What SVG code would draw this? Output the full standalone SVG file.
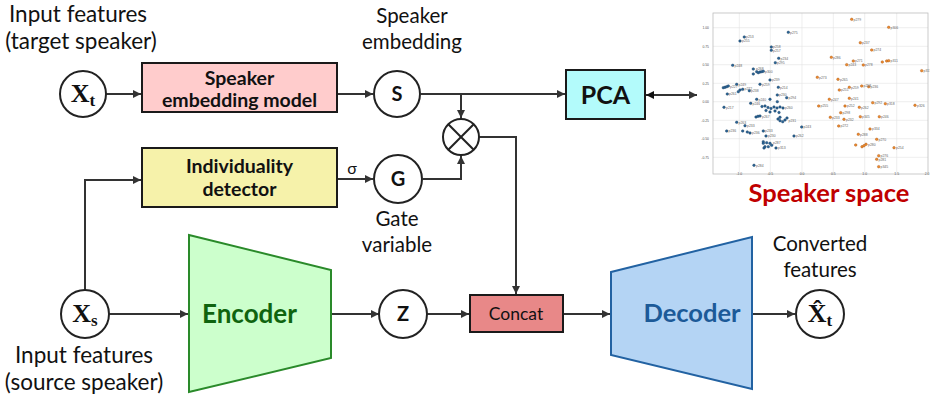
<svg xmlns="http://www.w3.org/2000/svg" width="930" height="396" viewBox="0 0 930 396">
  <defs>
    <marker id="arrow" viewBox="0 0 10 10" refX="10" refY="5" markerWidth="9" markerHeight="8" markerUnits="userSpaceOnUse" orient="auto">
      <path d="M0,0 L10,5 L0,10 z" fill="#333"/>
    </marker>
    <marker id="arrowStart" viewBox="0 0 10 10" refX="0" refY="5" markerWidth="9" markerHeight="8" markerUnits="userSpaceOnUse" orient="auto">
      <path d="M10,0 L0,5 L10,10 z" fill="#111"/>
    </marker>
    <style>
      .lbl { font-family: Lato, "Open Sans", sans-serif; fill: #111; text-anchor: middle; }
      .box { stroke: #1a1a1a; stroke-width: 2; }
      .boxtxt { font-family: Lato, "Open Sans", sans-serif; font-weight: bold; fill: #111; text-anchor: middle; }
      .node { fill: #fff; stroke: #222; stroke-width: 2; }
      .nodetxt { font-family: Lato, "Open Sans", sans-serif; font-weight: bold; font-size: 20px; fill: #111; text-anchor: middle; }
      .math { font-family: "Liberation Serif", "DejaVu Serif", serif; font-weight: bold; fill: #111; text-anchor: middle; }
      .wire { fill: none; stroke: #333; stroke-width: 2; }
      .grid { stroke: #e3e3e3; stroke-width: 0.6; }
      .tick { font-family: "Liberation Sans", sans-serif; font-size: 3.4px; fill: #555; }
      .pt { font-family: "Liberation Sans", sans-serif; font-size: 3.4px; fill: #666; }
      .b { fill: #2a6496; stroke: #1b3f60; stroke-width: 0.4; }
      .o { fill: #f08a2c; stroke: #a0561a; stroke-width: 0.4; }
    </style>
  </defs>

  <!-- captions -->
  <g id="captions">
    <text class="lbl" font-size="22.5"><tspan x="78" y="22">Input features</tspan><tspan x="81" y="49">(target speaker)</tspan></text>
    <text class="lbl" font-size="22.5"><tspan x="84" y="362.5">Input features</tspan><tspan x="84" y="389.5">(source speaker)</tspan></text>
    <text class="lbl" font-size="20.5"><tspan x="412" y="23">Speaker</tspan><tspan x="412" y="49">embedding</tspan></text>
    <text class="lbl" font-size="20.5"><tspan x="397" y="226">Gate</tspan><tspan x="397" y="252">variable</tspan></text>
    <text class="lbl" font-size="20.5"><tspan x="820" y="251">Converted</tspan><tspan x="820" y="277">features</tspan></text>
    <text class="lbl" font-size="16" x="352" y="174">σ</text>
  </g>

  <!-- connectors -->
  <g id="connectors">
    <line class="wire" x1="106" y1="94" x2="141" y2="94" marker-end="url(#arrow)"/>
    <line class="wire" x1="337" y1="94" x2="373" y2="94" marker-end="url(#arrow)"/>
    <line class="wire" x1="421" y1="94" x2="565" y2="94" marker-end="url(#arrow)"/>
    <line class="wire" x1="461" y1="94" x2="461" y2="118" marker-end="url(#arrow)"/>
    <line class="wire" x1="646" y1="95" x2="697" y2="95" marker-start="url(#arrowStart)" marker-end="url(#arrow)"/>
    <polyline class="wire" points="85,290 85,180 141,180" marker-end="url(#arrow)"/>
    <line class="wire" x1="337" y1="179" x2="373" y2="179" marker-end="url(#arrow)"/>
    <polyline class="wire" points="423,179 461,179 461,156" marker-end="url(#arrow)"/>
    <polyline class="wire" points="479,137 516,137 516,294" marker-end="url(#arrow)"/>
    <line class="wire" x1="109" y1="314" x2="188" y2="314" marker-end="url(#arrow)"/>
    <line class="wire" x1="331" y1="314" x2="379" y2="314" marker-end="url(#arrow)"/>
    <line class="wire" x1="427" y1="314" x2="469" y2="314" marker-end="url(#arrow)"/>
    <line class="wire" x1="563" y1="314" x2="610" y2="314" marker-end="url(#arrow)"/>
    <line class="wire" x1="752" y1="314" x2="795" y2="314" marker-end="url(#arrow)"/>
  </g>

  <!-- nodes -->
  <g id="node-xt">
    <circle class="node" cx="83" cy="94" r="23"/>
    <text class="math" x="83" y="102"><tspan font-size="26">X</tspan><tspan font-size="17" dy="4">t</tspan></text>
  </g>

  <g id="node-speaker-embedding-model">
    <rect class="box" x="142" y="63" width="195" height="49" fill="#ffcccc"/>
    <text class="boxtxt" font-size="19.5"><tspan x="239.5" y="85">Speaker</tspan><tspan x="239.5" y="106.5">embedding model</tspan></text>
  </g>

  <g id="node-s">
    <circle class="node" cx="397" cy="94" r="23"/>
    <text class="nodetxt" x="397" y="101">S</text>
  </g>

  <g id="node-pca">
    <rect class="box" x="566" y="70" width="79" height="49" fill="#b3fbfb"/>
    <text class="boxtxt" font-size="25" x="605.5" y="103.5">PCA</text>
  </g>

  <g id="node-multiply">
    <circle class="node" cx="461" cy="137" r="18"/>
    <line x1="448.3" y1="124.3" x2="473.7" y2="149.7" stroke="#222" stroke-width="2"/>
    <line x1="473.7" y1="124.3" x2="448.3" y2="149.7" stroke="#222" stroke-width="2"/>
  </g>

  <g id="node-individuality-detector">
    <rect class="box" x="142" y="148" width="195" height="59" fill="#f6f2aa"/>
    <text class="boxtxt" font-size="19.5"><tspan x="239.5" y="173">Individuality</tspan><tspan x="239.5" y="196">detector</tspan></text>
  </g>

  <g id="node-g">
    <circle class="node" cx="398" cy="179" r="24"/>
    <text class="nodetxt" x="398" y="186">G</text>
  </g>

  <g id="node-xs">
    <circle class="node" cx="85" cy="314" r="24"/>
    <text class="math" x="85" y="322"><tspan font-size="26">X</tspan><tspan font-size="17" dy="4">s</tspan></text>
  </g>

  <g id="node-encoder">
    <polygon points="189,235 331,270 331,358 189,392" fill="#ccffcc" stroke="#2a8a2a" stroke-width="2"/>
    <text font-family="Lato, Open Sans, sans-serif" font-weight="bold" font-size="26" fill="#0f640f" text-anchor="middle" x="249.5" y="323">Encoder</text>
  </g>

  <g id="node-z">
    <circle class="node" cx="403" cy="314" r="24"/>
    <text class="nodetxt" x="403" y="321">Z</text>
  </g>

  <g id="node-concat">
    <rect class="box" x="470" y="295" width="93" height="37" fill="#e88888"/>
    <text font-family="Lato, Open Sans, sans-serif" font-size="17.5" fill="#111" text-anchor="middle" x="516" y="319.5">Concat</text>
  </g>

  <g id="node-decoder">
    <polygon points="611,272 752,237 752,389 611,355" fill="#b4d4f4" stroke="#2262a2" stroke-width="2"/>
    <text font-family="Lato, Open Sans, sans-serif" font-weight="bold" font-size="25.5" fill="#1c5a98" text-anchor="middle" x="692" y="322">Decoder</text>
  </g>

  <g id="node-xt-hat">
    <circle class="node" cx="820" cy="314" r="24"/>
    <text class="math" x="820" y="322"><tspan font-size="26">X&#x302;</tspan><tspan font-size="17" dy="4">t</tspan></text>
  </g>

  <!-- speaker space scatter plot -->
  <g id="speaker-space">
    <rect x="713" y="13" width="215" height="161" fill="#fff"/>
    <g class="grid">
      <line x1="739.3" y1="13" x2="739.3" y2="174"/>
      <line x1="770.3" y1="13" x2="770.3" y2="174"/>
      <line x1="802" y1="13" x2="802" y2="174"/>
      <line x1="833.3" y1="13" x2="833.3" y2="174"/>
      <line x1="864.7" y1="13" x2="864.7" y2="174"/>
      <line x1="896.7" y1="13" x2="896.7" y2="174"/>
      <line x1="713" y1="27.7" x2="928" y2="27.7"/>
      <line x1="713" y1="46.3" x2="928" y2="46.3"/>
      <line x1="713" y1="64.7" x2="928" y2="64.7"/>
      <line x1="713" y1="83.3" x2="928" y2="83.3"/>
      <line x1="713" y1="101.7" x2="928" y2="101.7"/>
      <line x1="713" y1="120.3" x2="928" y2="120.3"/>
      <line x1="713" y1="138.7" x2="928" y2="138.7"/>
      <line x1="713" y1="157.3" x2="928" y2="157.3"/>
    </g>
    <rect x="713" y="13" width="215" height="161" fill="none" stroke="#bdbdbd" stroke-width="0.8"/>
    <g class="tick" text-anchor="end">
      <text x="709" y="29">1.00</text>
      <text x="709" y="47.6">0.75</text>
      <text x="709" y="66">0.50</text>
      <text x="709" y="84.6">0.25</text>
      <text x="709" y="103">0.00</text>
      <text x="709" y="121.6">-0.25</text>
      <text x="709" y="140">-0.50</text>
      <text x="709" y="158.6">-0.75</text>
    </g>
    <g class="tick" text-anchor="middle">
      <text x="739.3" y="175.3">-1.0</text>
      <text x="770.3" y="175.3">-0.5</text>
      <text x="802" y="175.3">0.0</text>
      <text x="833.3" y="175.3">0.5</text>
      <text x="864.7" y="175.3">1.0</text>
      <text x="896.7" y="175.3">1.5</text>
      <text x="927" y="175.3">2.0</text>
    </g>
    <!-- first speaker group -->
    <g class="b">
      <circle cx="788.3" cy="32.3" r="1.3"/><circle cx="744.3" cy="37" r="1.3"/><circle cx="740" cy="41" r="1.3"/>
      <circle cx="771.3" cy="47" r="1.3"/><circle cx="771.3" cy="50.3" r="1.3"/><circle cx="778.7" cy="58.3" r="1.3"/>
      <circle cx="775.3" cy="62.7" r="1.3"/><circle cx="732.7" cy="65.3" r="1.3"/>
      <circle cx="753.3" cy="69" r="1.3"/><circle cx="753.3" cy="74" r="1.3"/><circle cx="756.7" cy="71.7" r="1.3"/>
      <circle cx="758.3" cy="72.7" r="1.3"/><circle cx="760" cy="72" r="1.3"/><circle cx="761.7" cy="71.7" r="1.3"/><circle cx="763.3" cy="71.3" r="1.3"/>
      <circle cx="770" cy="80" r="1.3"/><circle cx="760" cy="84.3" r="1.3"/><circle cx="736.7" cy="84.3" r="1.3"/>
      <circle cx="723.3" cy="87.7" r="1.3"/><circle cx="725" cy="87.3" r="1.3"/><circle cx="726.7" cy="86.7" r="1.3"/><circle cx="728.3" cy="86" r="1.3"/>
      <circle cx="727.3" cy="94" r="1.3"/><circle cx="778.3" cy="87.3" r="1.3"/><circle cx="742.7" cy="89.3" r="1.3"/>
      <circle cx="749.3" cy="90.7" r="1.3"/><circle cx="738.3" cy="91.7" r="1.3"/><circle cx="740" cy="90" r="1.3"/>
      <circle cx="756.7" cy="99.3" r="1.3"/><circle cx="777.3" cy="95" r="1.3"/><circle cx="786.7" cy="97.7" r="1.3"/>
      <circle cx="770" cy="99.3" r="1.3"/><circle cx="777.3" cy="101.7" r="1.3"/><circle cx="750.7" cy="103.3" r="1.3"/>
      <circle cx="724" cy="107.3" r="1.3"/>
      <circle cx="762" cy="106.5" r="1.3"/><circle cx="765" cy="106" r="1.3"/><circle cx="768" cy="107.5" r="1.3"/><circle cx="771" cy="108.5" r="1.3"/>
      <circle cx="774" cy="107" r="1.3"/><circle cx="777" cy="108" r="1.3"/><circle cx="780" cy="107" r="1.3"/><circle cx="783" cy="108" r="1.3"/>
      <circle cx="766" cy="110.5" r="1.3"/><circle cx="770" cy="112" r="1.3"/><circle cx="775" cy="111" r="1.3"/><circle cx="779" cy="112.5" r="1.3"/>
      <circle cx="756" cy="117" r="1.3"/><circle cx="758" cy="116.3" r="1.3"/><circle cx="760" cy="116" r="1.3"/>
      <circle cx="736.7" cy="122.3" r="1.3"/><circle cx="745" cy="125.7" r="1.3"/>
      <circle cx="780" cy="117.3" r="1.3"/><circle cx="785" cy="120" r="1.3"/><circle cx="780" cy="120.7" r="1.3"/><circle cx="782.7" cy="121.7" r="1.3"/>
      <circle cx="778" cy="119" r="1.3"/><circle cx="787" cy="118" r="1.3"/>
      <circle cx="801.7" cy="127" r="1.3"/><circle cx="726.7" cy="131" r="1.3"/>
      <circle cx="742.7" cy="131" r="1.3"/><circle cx="747.3" cy="132" r="1.3"/><circle cx="750" cy="133" r="1.3"/>
      <circle cx="763.3" cy="131" r="1.3"/><circle cx="766" cy="136" r="1.3"/><circle cx="794" cy="136" r="1.3"/>
      <circle cx="763.3" cy="141.7" r="1.3"/><circle cx="766.7" cy="142.7" r="1.3"/><circle cx="770" cy="143.3" r="1.3"/>
      <circle cx="763.3" cy="143.3" r="1.3"/><circle cx="768.3" cy="146.7" r="1.3"/><circle cx="771.7" cy="145.3" r="1.3"/>
      <circle cx="765" cy="146.7" r="1.3"/><circle cx="776" cy="148" r="1.3"/><circle cx="764" cy="148" r="1.3"/>
      <circle cx="754" cy="165.3" r="1.3"/>
    </g>
    <!-- second speaker group -->
    <g class="o">
      <circle cx="851.7" cy="19.3" r="1.3"/><circle cx="888.7" cy="27.3" r="1.3"/><circle cx="860.3" cy="42.7" r="1.3"/>
      <circle cx="871.7" cy="50" r="1.3"/><circle cx="831.3" cy="57.3" r="1.3"/><circle cx="853.3" cy="61" r="1.3"/>
      <circle cx="846.7" cy="64.7" r="1.3"/><circle cx="863.3" cy="65" r="1.3"/>
      <circle cx="882.3" cy="62" r="1.3"/><circle cx="886.7" cy="61" r="1.3"/><circle cx="888.7" cy="60.7" r="1.3"/>
      <circle cx="921.7" cy="70.7" r="1.3"/><circle cx="817.3" cy="77.3" r="1.3"/><circle cx="838" cy="79.3" r="1.3"/>
      <circle cx="839.3" cy="90" r="1.3"/><circle cx="849.3" cy="87.3" r="1.3"/><circle cx="861.7" cy="86" r="1.3"/>
      <circle cx="868.7" cy="86.7" r="1.3"/><circle cx="829.3" cy="99.3" r="1.3"/><circle cx="849.3" cy="98.3" r="1.3"/>
      <circle cx="872.7" cy="102.7" r="1.3"/><circle cx="885.3" cy="103.7" r="1.3"/><circle cx="915" cy="105.3" r="1.3"/>
      <circle cx="818.7" cy="106" r="1.3"/><circle cx="845" cy="106" r="1.3"/><circle cx="859.3" cy="107.3" r="1.3"/>
      <circle cx="840.7" cy="112.7" r="1.3"/><circle cx="830.3" cy="117.3" r="1.3"/><circle cx="844" cy="119.3" r="1.3"/>
      <circle cx="860.3" cy="116.7" r="1.3"/><circle cx="879.3" cy="116.7" r="1.3"/><circle cx="838.7" cy="126" r="1.3"/>
      <circle cx="870" cy="129" r="1.3"/><circle cx="858.3" cy="134.3" r="1.3"/><circle cx="876.7" cy="139.3" r="1.3"/>
      <circle cx="855.7" cy="145" r="1.3"/><circle cx="862" cy="146.7" r="1.3"/><circle cx="866" cy="144.3" r="1.3"/><circle cx="864" cy="145.7" r="1.3"/>
      <circle cx="894" cy="147.7" r="1.3"/><circle cx="878.7" cy="155.7" r="1.3"/><circle cx="876.7" cy="159.3" r="1.3"/>
      <circle cx="878.7" cy="166.7" r="1.3"/>
    </g>
    <!-- point labels -->
    <g class="pt">
      <text x="790" y="33.5">p275</text><text x="746" y="38">p253</text><text x="742" y="42">p255</text>
      <text x="773" y="48">p258</text><text x="773" y="51.5">p257</text><text x="780.5" y="59.5">p234</text>
      <text x="777" y="64">p295</text><text x="734.5" y="66.5">p248</text><text x="756" y="70">p268</text>
      <text x="765" y="72.5">p300</text><text x="772" y="81">p239</text><text x="762" y="85.5">p259</text>
      <text x="738.5" y="85.5">p249</text><text x="730" y="87.5">p227</text><text x="729" y="95.2">p261</text>
      <text x="780" y="88.5">p214</text><text x="744.5" y="90.3">p272</text><text x="751" y="91.8">p238</text>
      <text x="758.5" y="100.5">p240</text><text x="779" y="96.2">p230</text><text x="788.5" y="98.8">p294</text>
      <text x="752.5" y="104.5">p246</text><text x="726" y="108.5">p217</text><text x="785" y="109">p260</text>
      <text x="762" y="117.5">p267</text><text x="738.5" y="123.5">p263</text><text x="747" y="126.8">p233</text>
      <text x="788.5" y="121.5">p231</text><text x="803.5" y="128.2">p243</text><text x="728.5" y="132.2">p236</text>
      <text x="752" y="134">p236</text><text x="765" y="132.2">p233</text><text x="768" y="137.2">p230</text>
      <text x="796" y="137.2">p262</text><text x="773" y="143.5">p287</text><text x="778" y="149.2">p313</text>
      <text x="756" y="166.5">p284</text>
      <text x="853.5" y="20.5">p279</text><text x="890.5" y="28.5">p306</text><text x="862" y="44">p237</text>
      <text x="873.5" y="51.2">p274</text><text x="833" y="58.5">p286</text><text x="855" y="62.2">p271</text>
      <text x="848.5" y="66">p243</text><text x="865" y="66.2">p278</text><text x="890.5" y="62">p311</text>
      <text x="923.5" y="72">p317</text><text x="819" y="78.5">p273</text><text x="840" y="80.5">p265</text>
      <text x="841" y="91.2">p251</text><text x="851" y="88.5">p259</text><text x="863.5" y="87.2">p258</text>
      <text x="870.5" y="88">p236</text><text x="831" y="100.5">p247</text><text x="851" y="99.5">p241</text>
      <text x="874.5" y="104">p292</text><text x="887" y="105">p318</text><text x="917" y="106.5">p326</text>
      <text x="820.5" y="107.2">p255</text><text x="847" y="107.2">p252</text><text x="861" y="108.5">p262</text>
      <text x="842.5" y="114">p298</text><text x="832" y="118.5">p233</text><text x="846" y="120.5">p232</text>
      <text x="862" y="118">p345</text><text x="881" y="118">p246</text><text x="840.5" y="127.2">p272</text>
      <text x="872" y="130.2">p334</text><text x="860" y="135.5">p288</text><text x="878.5" y="140.5">p270</text>
      <text x="868" y="145.5">p280</text><text x="896" y="149">p254</text><text x="880.5" y="157">p276</text>
      <text x="878.5" y="160.5">p281</text><text x="880.5" y="168">p345</text>
    </g>
    <text font-family="Lato, Open Sans, sans-serif" font-weight="bold" font-size="25.5" fill="#c00000" text-anchor="middle" x="829" y="201.8">Speaker space</text>
  </g>
</svg>
